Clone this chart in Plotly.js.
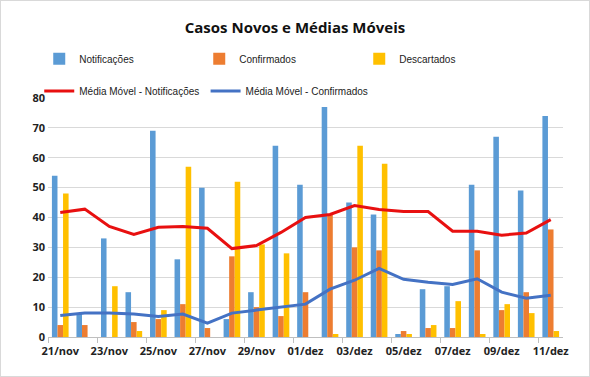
<!DOCTYPE html>
<html>
<head>
<meta charset="utf-8">
<script src="https://cdn.plot.ly/plotly-3.0.1.min.js"></script>
<style>
  html, body { margin: 0; padding: 0; background: #ffffff; }
  #chart { width: 588px; height: 375px; border: 1px solid #d9d9d9; }
</style>
</head>
<body>
<div id="chart"></div>
<script>
const dates = ["21/nov","22/nov","23/nov","24/nov","25/nov","26/nov","27/nov","28/nov","29/nov","30/nov",
               "01/dez","02/dez","03/dez","04/dez","05/dez","06/dez","07/dez","08/dez","09/dez","10/dez","11/dez"];
const notificacoes = [54, 8, 33, 15, 69, 26, 50, 6, 15, 64, 51, 77, 45, 41, 1, 16, 17, 51, 67, 49, 74];
const confirmados  = [4, 4, 0, 5, 6, 11, 3, 27, 10, 7, 15, 41, 30, 29, 2, 3, 3, 29, 9, 15, 36];
const descartados  = [48, 0, 17, 2, 9, 57, 0, 52, 31, 28, 0, 1, 64, 58, 1, 4, 12, 1, 11, 8, 2];
const mmNotificacoes = [41.7, 42.8, 37.0, 34.3, 36.7, 37.0, 36.4, 29.6, 30.6, 35.0, 40.0, 41.0, 44.0, 42.7, 42.0, 42.0, 35.4, 35.4, 34.1, 34.8, 39.3];
const mmConfirmados  = [7.2, 8.0, 8.0, 7.7, 6.9, 7.7, 4.6, 8.0, 9.0, 10.0, 11.0, 16.0, 19.0, 23.0, 19.3, 18.3, 17.6, 19.5, 15.0, 13.0, 14.0];

const traces = [
  {type: 'bar', name: 'Notificações', x: dates, y: notificacoes, marker: {color: '#5B9BD5'}, legend: 'legend'},
  {type: 'bar', name: 'Confirmados', x: dates, y: confirmados, marker: {color: '#ED7D31'}, legend: 'legend'},
  {type: 'bar', name: 'Descartados', x: dates, y: descartados, marker: {color: '#FFC000'}, legend: 'legend'},
  {type: 'scatter', mode: 'lines', name: 'Média Móvel - Notificações', x: dates, y: mmNotificacoes,
   line: {color: '#E81010', width: 3}, legend: 'legend2'},
  {type: 'scatter', mode: 'lines', name: 'Média Móvel - Confirmados', x: dates, y: mmConfirmados,
   line: {color: '#4472C4', width: 3}, legend: 'legend3'}
];

const font = {family: '"Open Sans", "Liberation Sans", sans-serif', color: '#222'};
const legFont = {family: '"Liberation Sans", Arial, sans-serif', size: 10, color: '#222'};

const layout = {
  width: 588, height: 375,
  margin: {l: 47, r: 26, t: 97, b: 39},
  paper_bgcolor: '#ffffff', plot_bgcolor: '#ffffff',
  font: font,
  title: {text: '<b>Casos Novos e Médias Móveis</b>', x: 0.5, xanchor: 'center', y: 0.93, yanchor: 'middle',
          font: {family: font.family, size: 15, color: '#111'}},
  barmode: 'group', bargap: 0.32, bargroupgap: 0,
  xaxis: {type: 'category', range: [-0.5, 20.5], dtick: 2, tick0: 0, tickson: 'boundaries', tickangle: 0,
          ticks: 'outside', ticklen: 5, tickcolor: '#bfbfbf', showgrid: false, ticklabelstandoff: 4,
          showline: true, linecolor: '#bfbfbf', linewidth: 1, zeroline: false,
          tickfont: {family: font.family, size: 11, color: '#222', weight: 'bold'}, fixedrange: true},
  yaxis: {range: [0, 80], dtick: 10, showgrid: true, gridcolor: '#d9d9d9', gridwidth: 1,
          showline: false, zeroline: false, ticks: '', ticklabelstandoff: 2,
          tickfont: {family: font.family, size: 11, color: '#222', weight: 'bold'}, fixedrange: true},
  legend: {orientation: 'h', x: -0.017, xanchor: 'left', y: 1.164, yanchor: 'middle', entrywidth: 115,
           itemwidth: 30, font: legFont, bgcolor: 'rgba(0,0,0,0)'},
  legend2: {orientation: 'h', x: -0.017, xanchor: 'left', y: 1.029, yanchor: 'middle',
           itemwidth: 30, font: legFont, bgcolor: 'rgba(0,0,0,0)'},
  legend3: {orientation: 'h', x: 0.306, xanchor: 'left', y: 1.029, yanchor: 'middle',
           itemwidth: 30, font: legFont, bgcolor: 'rgba(0,0,0,0)'},
  showlegend: true
};

Plotly.newPlot('chart', traces, layout, {displayModeBar: false, staticPlot: true});
</script>
</body>
</html>
